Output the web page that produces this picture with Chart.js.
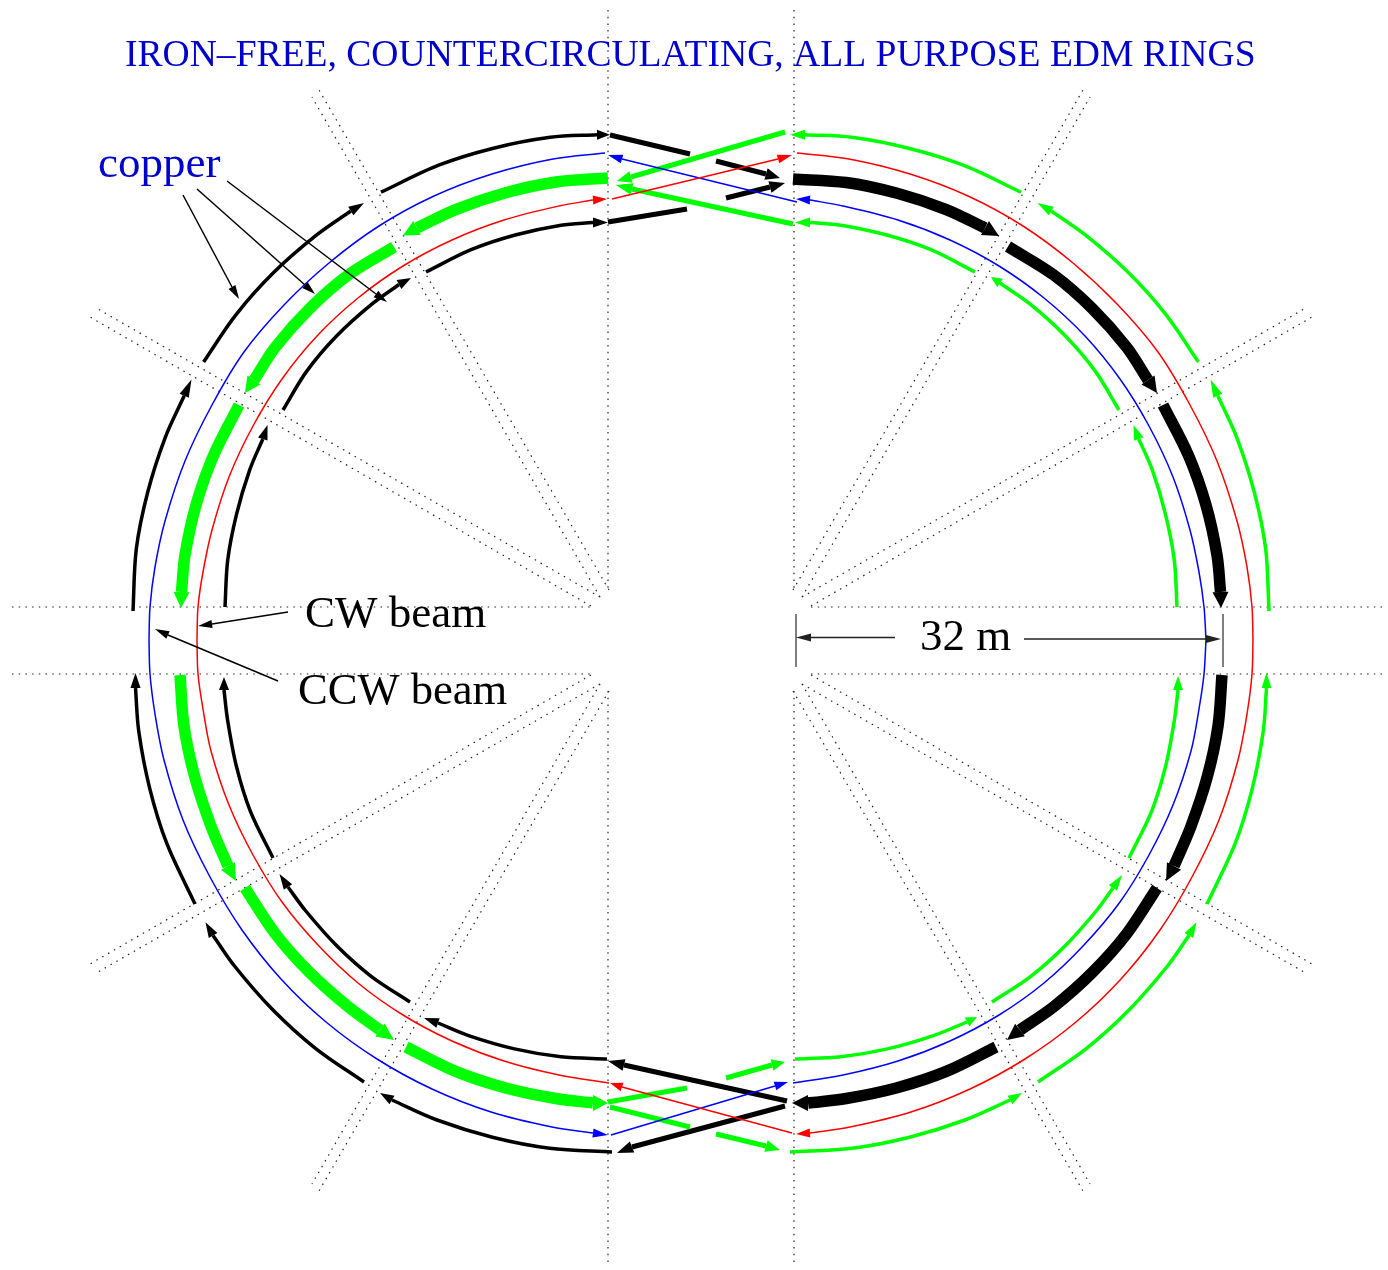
<!DOCTYPE html>
<html>
<head>
<meta charset="utf-8">
<title>EDM rings</title>
<script src="https://cdn.jsdelivr.net/npm/chart.js@4"></script>
<style>
    html, body { margin: 0; background: #fff; }
    canvas { display: block; }
</style>
</head>
<body>
<canvas id="ringChart" width="1388" height="1270"></canvas>
<script>
// Everything in page pixels, [x, y].
// In an arrow run the last point is the arrow tip, the one before it the head base.

// dotted guides
const guideLines = [
    [[608, 10], [608, 590]], [[794, 10], [794, 590]], [[608, 691], [608, 1265]], [[794, 691], [794, 1265]],
    [[12, 607], [591, 607]], [[811, 607], [1385, 607]], [[12, 674], [591, 674]], [[811, 674], [1385, 674]],
    [[609, 590], [319, 90]], [[600, 597], [312, 97]], [[600, 597], [98, 309]], [[591, 606], [90, 317]],
    [[793, 590], [1083, 90]], [[802, 597], [1090, 97]], [[802, 597], [1304, 309]], [[811, 606], [1312, 317]],
    [[609, 691], [319, 1191]], [[600, 684], [312, 1184]], [[600, 684], [98, 972]], [[591, 675], [90, 964]],
    [[793, 691], [1083, 1191]], [[802, 684], [1090, 1184]], [[802, 684], [1304, 972]], [[811, 675], [1312, 964]]
];

// thin beams
const blueTopLeft = [[605, 153], [553, 159], [492, 174], [434, 196], [379, 226], [329, 263], [284, 305], [244, 352], [212, 405], [185, 461], [165, 521], [155, 567], [150, 607], [149, 640]];
const blueBottomLeft = [[149, 640], [150, 674], [155, 714], [164, 760], [183, 820], [210, 877], [242, 930], [281, 979], [326, 1022], [377, 1059], [432, 1089], [491, 1112], [552, 1127], [593, 1133], [608, 1135]];
const blueTopRight = [[1206, 640], [1204, 607], [1199, 572], [1190, 530], [1173, 477], [1149, 426], [1120, 379], [1085, 336], [1044, 298], [999, 266], [950, 240], [898, 220], [843, 206], [810, 200], [796, 199]];
const blueBottomRight = [[793, 1083], [843, 1075], [898, 1061], [950, 1041], [999, 1015], [1044, 983], [1084, 945], [1120, 902], [1149, 855], [1173, 805], [1191, 751], [1199, 709], [1204, 674], [1206, 640]];
const redTopLeft = [[197, 640], [198, 607], [203, 572], [212, 530], [229, 477], [253, 426], [282, 379], [317, 336], [358, 298], [403, 266], [452, 240], [504, 220], [559, 206], [593, 200], [607, 199]];
const redBottomLeft = [[609, 1083], [559, 1075], [504, 1061], [452, 1041], [403, 1015], [358, 983], [318, 945], [282, 902], [253, 855], [229, 805], [211, 751], [203, 709], [198, 674], [197, 640]];
const redTopRight = [[797, 153], [849, 159], [910, 174], [968, 196], [1023, 226], [1073, 263], [1118, 305], [1158, 352], [1190, 405], [1217, 461], [1237, 521], [1247, 567], [1252, 607], [1253, 640]];
const redBottomRight = [[1253, 640], [1252, 674], [1247, 714], [1238, 760], [1219, 820], [1192, 877], [1160, 930], [1121, 979], [1076, 1022], [1025, 1059], [970, 1089], [911, 1112], [850, 1127], [810, 1133], [796, 1134]];

// outer copper, black on the left, green on the right
const blackOuterTop = [
    [[133, 611], [136.3, 549], [147.7, 492.2], [165.3, 437.3], [184.2, 395.8], [191.5, 379.5]],
    [[203.6, 362], [235.3, 315.6], [273.6, 272.6], [317, 234.7], [350.8, 211], [364, 203]],
    [[381, 192.2], [438.7, 165.2], [493.5, 148.2], [550.3, 137.3], [597, 134.7], [610, 134.7]]
];
const blackOuterBottom = [
    [[612, 1152], [549.7, 1148.2], [492.4, 1137.2], [437, 1120], [392, 1100], [380, 1093]],
    [[364, 1082], [315.4, 1048.3], [272.5, 1009.5], [234.5, 966], [213.1, 935.4], [205.5, 922.3]],
    [[195, 904], [166.7, 843.2], [149.7, 788.3], [138.8, 731.6], [135.5, 688], [135.5, 673]]
];
const greenOuterTop = [
    [[1269, 611], [1265.7, 549], [1254.3, 492.2], [1236.7, 437.3], [1217.8, 395.8], [1210.5, 379.5]],
    [[1198.4, 362], [1166.7, 315.6], [1128.4, 272.6], [1085, 234.7], [1051.2, 211], [1037.5, 203]],
    [[1021, 192.2], [963.3, 165.2], [908.5, 148.2], [851.7, 137.3], [805, 134.7], [790, 134.7]]
];
const greenOuterBottom = [
    [[790, 1152], [852.3, 1148.2], [909.6, 1137.2], [965, 1120], [1010, 1100], [1022, 1093]],
    [[1038, 1082], [1086.6, 1048.3], [1129.5, 1009.5], [1167.5, 966], [1188.9, 935.4], [1196.5, 922.3]],
    [[1207, 904], [1235.3, 843.2], [1252.3, 788.3], [1263.2, 731.6], [1266.5, 688], [1266.5, 673]]
];

// inner copper
const blackInnerTop = [
    [[225, 607], [227.7, 560.3], [236.5, 514.3], [249.8, 469.7], [262.8, 439], [267.5, 425]],
    [[283, 410], [306.6, 371.4], [336.8, 335.8], [371.5, 304.4], [399, 284.5], [411, 278]],
    [[426, 272], [471.1, 249.7], [515.2, 235], [561.1, 225.2], [593, 222.5], [608, 222.5]]
];
const blackInnerBottom = [
    [[607, 1059], [561, 1056.8], [514.5, 1048.9], [469.3, 1035.9], [438, 1023], [424, 1018]],
    [[410, 1002], [371.5, 976.6], [336.5, 945.5], [305.4, 910.5], [288, 887], [279.5, 874]],
    [[273, 858], [250.3, 811.1], [236.5, 766.7], [227.7, 720.7], [224, 690], [224, 677]]
];
const greenInnerTop = [
    [[1177, 607], [1174.3, 560.3], [1165.5, 514.3], [1152.2, 469.7], [1138.8, 439], [1133.5, 425]],
    [[1119, 410], [1095.4, 371.4], [1065.2, 335.8], [1030.5, 304.4], [1000, 283], [991, 277]],
    [[975, 272], [930.9, 249.7], [886.8, 235], [840.9, 225.2], [810, 222.5], [795, 222.5]]
];
const greenInnerBottom = [
    [[795, 1059], [841, 1056.8], [887.5, 1048.9], [932.7, 1035.9], [967, 1022], [977, 1017]],
    [[992, 1002], [1030.5, 976.6], [1065.5, 945.5], [1096.6, 910.5], [1113, 888], [1122, 875]],
    [[1129, 858], [1151.7, 811.1], [1165.5, 766.7], [1174.3, 720.7], [1178, 690], [1178, 676]]
];

// heavy middle copper
const greenHeavyTop = [
    [[608, 178], [555.8, 182], [504.8, 193], [455.7, 209.6], [417, 228], [403, 235.5]],
    [[394, 247], [348.4, 274.9], [309.6, 308.6], [275.5, 347], [254, 380], [245, 393]],
    [[239, 405], [213.4, 455.7], [196.2, 504.3], [185, 555], [181.5, 592], [181, 608]]
];
const greenHeavyBottom = [
    [[180, 675], [184, 726.1], [194.8, 777.1], [211, 826.2], [228, 866], [236, 881]],
    [[245, 888], [275.5, 934], [309.6, 972.4], [348, 1006.5], [380, 1030], [394, 1040]],
    [[406, 1047], [455.7, 1071.4], [504.8, 1087.7], [555.8, 1098.5], [593, 1103], [608, 1103]]
];
const blackHeavyTop = [
    [[793, 179], [846.2, 182.5], [897.2, 193.3], [946.3, 209.6], [985, 228], [999, 236]],
    [[1008, 246.5], [1053.6, 274.9], [1092.4, 308.6], [1126.5, 347], [1148, 380], [1157, 393]],
    [[1163, 405], [1188.6, 455.7], [1205.8, 504.3], [1217, 555], [1220.5, 592], [1221, 608]]
];
const blackHeavyBottom = [
    [[1222, 675], [1218, 726.1], [1207.2, 777.1], [1191, 826.2], [1174, 866], [1166, 881]],
    [[1157, 888], [1126.5, 934], [1092.4, 972.4], [1054, 1006.5], [1020, 1030], [1007, 1040]],
    [[996, 1047], [946.3, 1071.4], [897.2, 1087.7], [846.2, 1098.5], [808, 1103], [792, 1103]]
];

// straight crossings between the two vertical guides
const blackCrossPlain = [
    [[610, 135], [690, 154]], [[608, 222], [687, 209]]
];
const blackCrossArrows = [
    [[716, 161], [766, 174], [780, 178]], [[726, 198], [770, 187], [785, 183]],
    [[787, 1101], [624, 1065], [608, 1061]], [[785, 1106], [632, 1147], [617, 1153]]
];
const greenCrossPlain = [
    [[608, 1102], [687, 1088]], [[610, 1107], [690, 1127]]
];
const greenCrossArrows = [
    [[785, 132], [631, 177], [617, 181]], [[793, 224], [632, 189], [616, 185]],
    [[726, 1078], [772, 1065], [785, 1062]], [[716, 1134], [766, 1146], [780, 1150]]
];
const blueCrossArrows = [
    [[797, 202], [622, 159], [608, 155]], [[611, 1135], [775, 1086], [788, 1082]]
];
const redCrossArrows = [
    [[612, 199], [778, 159], [792, 155]], [[792, 1133], [622, 1087], [610, 1083]]
];

// callouts
const leaderArrows = [
    [[183, 195], [232, 287], [239, 299]], [[197, 189], [305, 285], [315, 294]], [[227, 181], [376, 294], [387, 302]],
    [[288, 612], [212, 624], [198, 626]], [[278, 681], [168, 635], [155, 629]]
];
const dimArrows = [
    [[895, 637.5], [811, 637.5], [796, 637.5]], [[1024, 639], [1206, 639], [1221, 639]]
];
const dimBars = [
    [[796, 614], [796, 667]], [[1223, 614], [1223, 667]]
];

const textLabels = ['IRON\u2013FREE, COUNTERCIRCULATING, ALL PURPOSE EDM RINGS', 'copper', 'CW beam', 'CCW beam', '32 m'];
const textX = [125, 98, 305, 298, 920];
const textY = [66, 177, 627, 704, 650];
const textSize = [37.6, 45, 45, 44.6, 45];
const textColor = ['#0000cd', '#0000cd', '#000', '#000', '#000'];

const RED = '#ff0000', BLUE = '#0000ff', GREEN = '#00ff00', BLACK = '#000000';

const datasets = [];
const heads = [];

function addRun(points, color, width, opts) {
    opts = opts || {};
    const line = opts.head ? points.slice(0, -1) : points;
    datasets.push({
        data: line.map(p => ({ x: p[0], y: p[1] })),
        showLine: true,
        borderColor: color,
        borderWidth: width,
        borderDash: opts.dash || [],
        tension: opts.curve ? 0.33 : 0,
        pointRadius: 0,
        order: -datasets.length
    });
    if (opts.head) {
        heads.push({ base: points[points.length - 2], tip: points[points.length - 1], color: color, half: opts.head });
    }
}

guideLines.forEach(l => addRun(l, '#222222', 1.2, { dash: [1.5, 5.2] }));

[blackOuterTop, blackOuterBottom].forEach(g => g.forEach(r => addRun(r, BLACK, 3.5, { curve: true, head: 5 })));
[greenOuterTop, greenOuterBottom].forEach(g => g.forEach(r => addRun(r, GREEN, 3.5, { curve: true, head: 5 })));
[blackInnerTop, blackInnerBottom].forEach(g => g.forEach(r => addRun(r, BLACK, 3.5, { curve: true, head: 5 })));
[greenInnerTop, greenInnerBottom].forEach(g => g.forEach(r => addRun(r, GREEN, 3.5, { curve: true, head: 5 })));
[greenHeavyTop, greenHeavyBottom].forEach(g => g.forEach(r => addRun(r, GREEN, 11.5, { curve: true, head: 8 })));
[blackHeavyTop, blackHeavyBottom].forEach(g => g.forEach(r => addRun(r, BLACK, 11.5, { curve: true, head: 8 })));

addRun(blueTopLeft, BLUE, 1.5, { curve: true });
addRun(blueBottomLeft, BLUE, 1.5, { curve: true, head: 4.5 });
addRun(blueTopRight, BLUE, 1.5, { curve: true, head: 4.5 });
addRun(blueBottomRight, BLUE, 1.5, { curve: true });
addRun(redTopLeft, RED, 1.5, { curve: true, head: 4.5 });
addRun(redBottomLeft, RED, 1.5, { curve: true });
addRun(redTopRight, RED, 1.5, { curve: true });
addRun(redBottomRight, RED, 1.5, { curve: true, head: 4.5 });

blackCrossPlain.forEach(r => addRun(r, BLACK, 5));
blackCrossArrows.forEach(r => addRun(r, BLACK, 5, { head: 6 }));
greenCrossPlain.forEach(r => addRun(r, GREEN, 5));
greenCrossArrows.forEach(r => addRun(r, GREEN, 5, { head: 6 }));
blueCrossArrows.forEach(r => addRun(r, BLUE, 1.5, { head: 4.5 }));
redCrossArrows.forEach(r => addRun(r, RED, 1.5, { head: 4.5 }));

leaderArrows.forEach(r => addRun(r, BLACK, 1.5, { head: 4 }));
dimArrows.forEach(r => addRun(r, '#222', 1.5, { head: 4 }));
dimBars.forEach(r => addRun(r, '#555', 1.5));

// arrow heads and the page text go on top of the lines
const overlayPlugin = {
    id: 'overlay',
    afterDatasetsDraw(chart) {
        const c = chart.ctx;
        const sx = chart.scales.x;
        const sy = chart.scales.y;
        heads.forEach(h => {
            const bx = sx.getPixelForValue(h.base[0]);
            const by = sy.getPixelForValue(h.base[1]);
            const tx = sx.getPixelForValue(h.tip[0]);
            const ty = sy.getPixelForValue(h.tip[1]);
            const len = Math.hypot(tx - bx, ty - by);
            const nx = -(ty - by) / len;
            const ny = (tx - bx) / len;
            c.beginPath();
            c.moveTo(tx, ty);
            c.lineTo(bx + nx * h.half, by + ny * h.half);
            c.lineTo(bx - nx * h.half, by - ny * h.half);
            c.closePath();
            c.fillStyle = h.color;
            c.fill();
        });
        textLabels.forEach((t, i) => {
            c.font = textSize[i] + 'px "Liberation Serif"';
            c.fillStyle = textColor[i];
            c.textAlign = 'left';
            c.textBaseline = 'alphabetic';
            c.fillText(t, sx.getPixelForValue(textX[i]), sy.getPixelForValue(textY[i]));
        });
    }
};

new Chart(document.getElementById('ringChart'), {
    type: 'scatter',
    data: { datasets: datasets },
    plugins: [overlayPlugin],
    options: {
        responsive: false,
        animation: false,
        layout: { padding: 0 },
        plugins: {
            legend: { display: false },
            title: { display: false },
            tooltip: { enabled: false }
        },
        scales: {
            x: { type: 'linear', min: 0, max: 1388, display: false },
            y: { type: 'linear', min: 0, max: 1270, reverse: true, display: false }
        }
    }
});
</script>
</body>
</html>
